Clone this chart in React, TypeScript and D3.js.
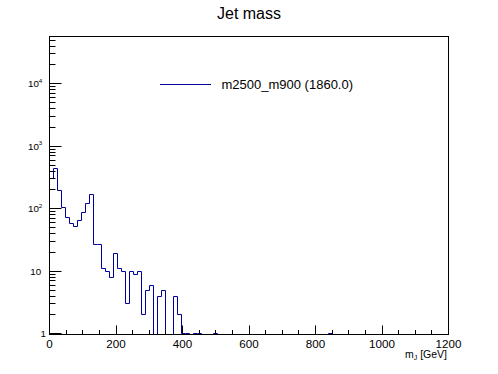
import { useEffect, useRef } from 'react';
import * as d3 from 'd3';

// 100 bins of 12 GeV from 0 to 1200
const binWidth = 12;
const counts = [
  306, 443, 194, 104, 73, 58, 52, 65, 88, 122,
  166, 27, 27, 11, 10, 8, 19, 11, 10, 3,
  10, 9, 10, 2, 5, 6, 0, 4, 5, 0,
  0, 4, 2, 1, 1, 0, 1, 1, 0, 0,
  0, 1, 0, 0, 0, 0, 0, 0, 0, 0,
  0, 0, 0, 0, 0, 0, 0, 0, 0, 0,
  0, 0, 0, 0, 0, 0, 0, 0, 0, 0,
  1, 0, 0, 0, 0, 0, 0, 0, 0, 0,
  0, 0, 0, 0, 0, 0, 0, 0, 0, 0,
  0, 0, 0, 0, 0, 0, 0, 0, 0, 0,
];
const xMajorTicks = [0, 200, 400, 600, 800, 1000, 1200];
const yMajorTicks = [1, 10, 100, 1000, 10000];
const title = 'Jet mass';
const legendLabel = 'm2500_m900 (1860.0)';

const W = 498;
const H = 374;
const frame = { left: 49.5, right: 448.5, top: 36.5, bottom: 334.5 };
const font = '"Liberation Sans", Arial, Helvetica, sans-serif';
const histColor = '#00009c';

const crisp = (v: number) => Math.round(v - 0.5) + 0.5;

const JetMassChart = () => {
  const ref = useRef<SVGSVGElement>(null);

  useEffect(() => {
    const svg = d3.select(ref.current);
    svg.selectAll('*').remove();

    const x = d3.scaleLinear().domain([0, 1200]).range([frame.left, frame.right]);
    const y = d3.scaleLog().domain([0.971, 56900]).range([frame.bottom, frame.top]);

    svg.append('rect').attr('width', W).attr('height', H).attr('fill', '#fff');

    svg
      .append('clipPath')
      .attr('id', 'plotClip')
      .append('rect')
      .attr('x', frame.left)
      .attr('y', frame.top)
      .attr('width', frame.right - frame.left)
      .attr('height', frame.bottom - frame.top);

    // histogram as a step line, zero bins dropped to the bottom of the frame
    const yv = (v: number) => (v > 0 ? crisp(y(v)) : frame.bottom + 2);
    let d = `M${crisp(x(0))},${frame.bottom + 2}`;
    counts.forEach((c, i) => {
      d += `V${yv(c)}H${crisp(x((i + 1) * binWidth))}`;
    });
    d += `V${frame.bottom + 2}`;
    svg
      .append('path')
      .attr('d', d)
      .attr('fill', 'none')
      .attr('stroke', histColor)
      .attr('stroke-width', 1)
      .attr('clip-path', 'url(#plotClip)');

    // frame
    svg
      .append('rect')
      .attr('x', frame.left)
      .attr('y', frame.top)
      .attr('width', frame.right - frame.left)
      .attr('height', frame.bottom - frame.top)
      .attr('fill', 'none')
      .attr('stroke', '#000')
      .attr('stroke-width', 1);

    // x ticks (inward), majors every 200, minors every 50
    const xMinor = d3.range(0, 1201, 50).filter((v) => v % 200 !== 0);
    const xt = svg.append('g').attr('stroke', '#000').attr('stroke-width', 1);
    xMajorTicks.forEach((v) => {
      const px = crisp(x(v));
      xt.append('line').attr('x1', px).attr('x2', px).attr('y1', frame.bottom).attr('y2', frame.bottom - 9);
    });
    xMinor.forEach((v) => {
      const px = crisp(x(v));
      xt.append('line').attr('x1', px).attr('x2', px).attr('y1', frame.bottom).attr('y2', frame.bottom - 4.5);
    });
    svg
      .append('g')
      .selectAll('text')
      .data(xMajorTicks)
      .enter()
      .append('text')
      .attr('x', (v) => x(v))
      .attr('y', 347.5)
      .attr('text-anchor', 'middle')
      .style('font', `11.6px ${font}`)
      .text((v) => v);

    // y ticks, log scale
    const yMinor: number[] = [];
    yMajorTicks.forEach((p) => {
      for (let k = 2; k <= 9; k++) {
        const v = p * k;
        if (v < 56900) yMinor.push(v);
      }
    });
    const yt = svg.append('g').attr('stroke', '#000').attr('stroke-width', 1);
    yMajorTicks.forEach((v) => {
      const py = crisp(y(v));
      yt.append('line').attr('x1', frame.left).attr('x2', frame.left + 12).attr('y1', py).attr('y2', py);
    });
    yMinor.forEach((v) => {
      const py = crisp(y(v));
      yt.append('line').attr('x1', frame.left).attr('x2', frame.left + 6).attr('y1', py).attr('y2', py);
    });

    yMajorTicks.forEach((v) => {
      const exp = Math.round(Math.log10(v));
      const py = y(v);
      if (exp === 0) {
        svg
          .append('text')
          .attr('x', 46)
          .attr('y', py + 3.2)
          .attr('text-anchor', 'end')
          .style('font', `9.8px ${font}`)
          .text('1');
      } else if (exp === 1) {
        svg
          .append('text')
          .attr('x', 41.2)
          .attr('y', py + 3.4)
          .attr('text-anchor', 'end')
          .style('font', `9.8px ${font}`)
          .text('10');
      } else {
        const t = svg
          .append('text')
          .attr('x', 42.3)
          .attr('y', py + 3.6)
          .attr('text-anchor', 'end')
          .style('font', `9.8px ${font}`);
        t.append('tspan').text('10');
        t.append('tspan').attr('dy', -4.6).style('font-size', '6.2px').text(exp);
      }
    });

    // axis title
    const at = svg
      .append('text')
      .attr('x', 447)
      .attr('y', 358)
      .attr('text-anchor', 'end')
      .style('font', `10.5px ${font}`);
    at.append('tspan').text('m');
    at.append('tspan').attr('dy', 2).style('font-size', '7px').text('J');
    at.append('tspan').attr('dy', -2).text(' [GeV]');

    // title
    svg
      .append('text')
      .attr('x', 249)
      .attr('y', 18.5)
      .attr('text-anchor', 'middle')
      .style('font', `16px ${font}`)
      .text(title);

    // legend
    svg
      .append('line')
      .attr('x1', 160)
      .attr('x2', 211)
      .attr('y1', 84.5)
      .attr('y2', 84.5)
      .attr('stroke', histColor)
      .attr('stroke-width', 1);
    svg
      .append('text')
      .attr('x', 221.5)
      .attr('y', 89.3)
      .style('font', `13px ${font}`)
      .text(legendLabel);
  }, []);

  return (
    <svg
      ref={ref}
      width={W}
      height={H}
      style={{ position: 'absolute', left: 0, top: 0, display: 'block' }}
    />
  );
};

export default function App() {
  return <JetMassChart />;
}
